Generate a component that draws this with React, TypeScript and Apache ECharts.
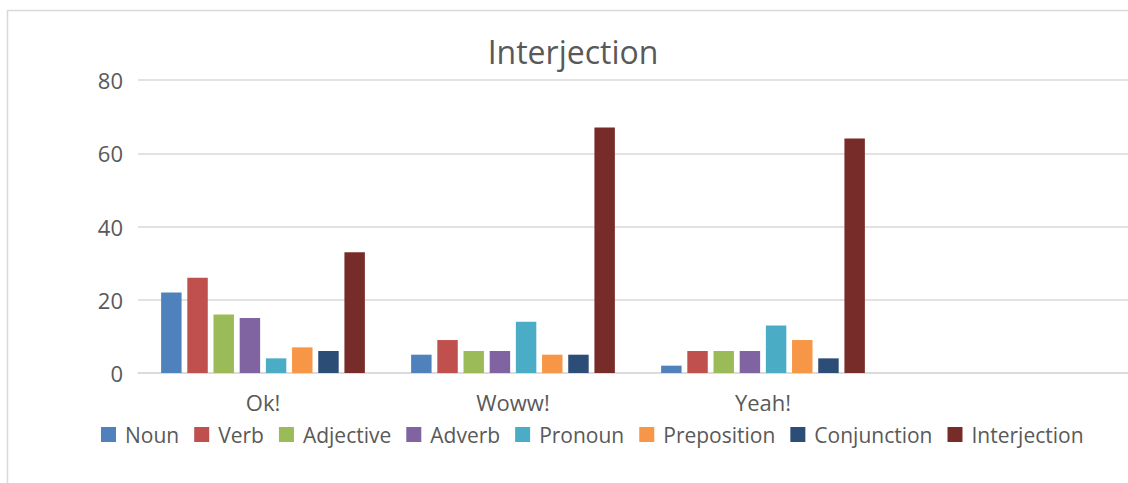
import React, { useEffect, useRef } from "react";
import * as echarts from "echarts";

const categories = ["Ok!", "Woww!", "Yeah!", ""];
const seriesNames = ["Noun", "Verb", "Adjective", "Adverb", "Pronoun", "Preposition", "Conjunction", "Interjection"];
const noun = [22, 5, 2, null];
const verb = [26, 9, 6, null];
const adjective = [16, 6, 6, null];
const adverb = [15, 6, 6, null];
const pronoun = [4, 14, 13, null];
const preposition = [7, 5, 9, null];
const conjunction = [6, 5, 4, null];
const interjection = [33, 67, 64, null];
const yTicks = [0, 20, 40, 60, 80];
const colors = ["#4F81BD", "#C0504D", "#9BBB59", "#8064A2", "#4BACC6", "#F79646", "#2C4D75", "#772C2A"];

const allValues = [noun, verb, adjective, adverb, pronoun, preposition, conjunction, interjection];
const FONT = "'Open Sans', sans-serif";

export default function App() {
  const ref = useRef<HTMLDivElement>(null);
  useEffect(() => {
    if (!ref.current) return;
    const chart = echarts.init(ref.current, null, { renderer: "svg" });
    chart.setOption({
      animation: false,
      backgroundColor: "#ffffff",
      color: colors,
      title: {
        text: "Interjection",
        left: 568,
        textAlign: "center",
        top: 30,
        textStyle: { fontFamily: FONT, fontSize: 32, fontWeight: "normal", color: "#595959" },
      },
      legend: {
        left: 96,
        top: 419,
        itemWidth: 15,
        itemHeight: 15,
        itemGap: 15,
        icon: "rect",
        textStyle: { fontFamily: FONT, fontSize: 21, color: "#595959", padding: [0, 0, 0, 4] },
        data: seriesNames,
      },
      graphic: [
        {
          type: "rect",
          shape: { x: 7.5, y: 10.5, width: 1300, height: 600 },
          style: { fill: "none", stroke: "#d9d9d9", lineWidth: 1.5 },
          silent: true,
          z: -1,
        },
      ],
      grid: { left: 138, right: 2, top: 80, bottom: 110, containLabel: false },
      xAxis: {
        type: "category",
        data: categories,
        axisLine: { lineStyle: { color: "#d9d9d9", width: 1.5 } },
        axisTick: { show: false },
        axisLabel: { fontFamily: FONT, fontSize: 22, color: "#595959", margin: 18 },
      },
      yAxis: {
        type: "value",
        min: yTicks[0],
        max: yTicks[yTicks.length - 1],
        interval: 20,
        axisLine: { show: false },
        axisTick: { show: false },
        axisLabel: { fontFamily: FONT, fontSize: 22, color: "#595959", margin: 15 },
        splitLine: { lineStyle: { color: "#d9d9d9", width: 1.5 } },
      },
      series: seriesNames.map((name, i) => ({
        name,
        type: "bar",
        data: allValues[i],
        barGap: "28%",
        barCategoryGap: "18.5%",
        itemStyle: { color: colors[i] },
      })),
    });
    return () => chart.dispose();
  }, []);
  return (
    <div
      ref={ref}
      style={{ position: "fixed", left: 0, top: 0, width: 1140, height: 483, overflow: "hidden" }}
    />
  );
}
